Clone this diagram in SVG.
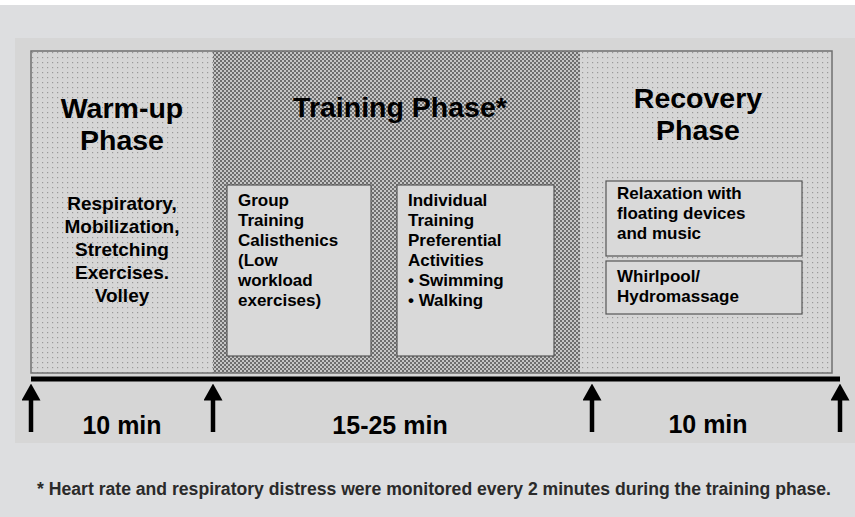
<svg xmlns="http://www.w3.org/2000/svg" width="855" height="517" viewBox="0 0 855 517">
<defs>
<style>
.t{font-family:"Liberation Sans",Arial,sans-serif;font-weight:bold;fill:#000}
.title{font-size:28.5px;text-anchor:middle}
.body{font-size:19px;text-anchor:middle}
.box{font-size:17px}
.time{font-size:25px;text-anchor:middle}
.note{font-size:17.6px;text-anchor:middle;fill:#2a2a2a}
.inner{fill:#d9d9d9;stroke:#555;stroke-width:1.2}
.arr{stroke:#000;stroke-width:4.5;fill:none;marker-end:url(#head)}
</style>
<pattern id="dots" width="5" height="5" patternUnits="userSpaceOnUse">
<rect width="5" height="5" fill="#d6d6d6"/>
<rect x="2" y="2" width="1.2" height="1.2" fill="#999999"/>
</pattern>
<pattern id="check" width="4" height="4" patternUnits="userSpaceOnUse">
<rect width="4" height="4" fill="#c6c6c6"/>
<rect x="0" y="0" width="2" height="2" fill="#6e6e6e"/>
<rect x="2" y="2" width="2" height="2" fill="#6e6e6e"/>
</pattern>
<marker id="head" viewBox="0 0 17 19" refX="0.5" refY="9.5" markerWidth="17" markerHeight="19" markerUnits="userSpaceOnUse" orient="auto">
<path d="M0,0 L17,9.5 L0,19 z" fill="#000"/>
</marker>
</defs>
<rect width="855" height="517" fill="#ffffff"/>
<rect x="0" y="5" width="855" height="512" fill="#dddee0"/>
<rect x="15" y="38" width="840" height="405" fill="#d6d6d6"/>

<g id="warmup">
<rect x="31" y="51" width="182" height="322" fill="url(#dots)"/>
<text class="t title" x="122" y="118">Warm-up</text>
<text class="t title" x="122" y="150">Phase</text>
<text class="t body" x="122" y="210">Respiratory,</text>
<text class="t body" x="122" y="233">Mobilization,</text>
<text class="t body" x="122" y="256">Stretching</text>
<text class="t body" x="122" y="279">Exercises.</text>
<text class="t body" x="122" y="302">Volley</text>
</g>

<g id="training">
<rect x="213" y="51" width="367" height="322" fill="url(#check)"/>
<text class="t title" x="400" y="117">Training Phase*</text>
</g>

<g id="recovery">
<rect x="580" y="51" width="252" height="322" fill="url(#dots)"/>
<text class="t title" x="698" y="108">Recovery</text>
<text class="t title" x="698" y="140">Phase</text>
</g>

<rect x="31" y="51" width="801" height="322" fill="none" stroke="#707070" stroke-width="1.5"/>

<g id="group-training">
<rect class="inner" x="227" y="185" width="144" height="171"/>
<text class="t box" x="238" y="206">Group</text>
<text class="t box" x="238" y="226">Training</text>
<text class="t box" x="238" y="246">Calisthenics</text>
<text class="t box" x="238" y="266">(Low</text>
<text class="t box" x="238" y="286">workload</text>
<text class="t box" x="238" y="306">exercises)</text>
</g>

<g id="individual-training">
<rect class="inner" x="397" y="185" width="157" height="171"/>
<text class="t box" x="408" y="206">Individual</text>
<text class="t box" x="408" y="226">Training</text>
<text class="t box" x="408" y="246">Preferential</text>
<text class="t box" x="408" y="266">Activities</text>
<text class="t box" x="408" y="286">• Swimming</text>
<text class="t box" x="408" y="306">• Walking</text>
</g>

<g id="relaxation">
<rect class="inner" x="606" y="181" width="196" height="75"/>
<text class="t box" x="617" y="199">Relaxation with</text>
<text class="t box" x="617" y="219">floating devices</text>
<text class="t box" x="617" y="239">and music</text>
</g>

<g id="whirlpool">
<rect class="inner" x="606" y="261" width="196" height="53"/>
<text class="t box" x="617" y="282">Whirlpool/</text>
<text class="t box" x="617" y="302">Hydromassage</text>
</g>

<g id="connectors">
<line x1="31" y1="379" x2="840" y2="379" stroke="#000" stroke-width="5"/>
<line class="arr" x1="31" y1="432" x2="31" y2="400"/>
<line class="arr" x1="213" y1="432" x2="213" y2="400"/>
<line class="arr" x1="592" y1="432" x2="592" y2="400"/>
<line class="arr" x1="840" y1="432" x2="840" y2="400"/>
</g>

<g id="durations">
<text class="t time" x="122" y="434">10 min</text>
<text class="t time" x="390" y="434">15-25 min</text>
<text class="t time" x="708" y="433">10 min</text>
</g>

<text class="t note" x="434" y="495">* Heart rate and respiratory distress were monitored every 2 minutes during the training phase.</text>
</svg>
